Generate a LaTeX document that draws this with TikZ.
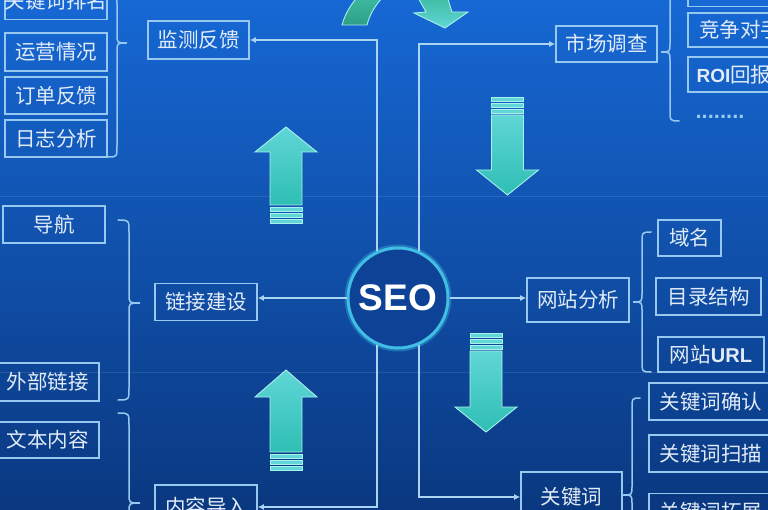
\documentclass[tikz,border=0pt]{standalone}
\usepackage{fontspec}
\newfontfamily\cjk{Noto Sans CJK SC}
\newfontfamily\lsans{Liberation Sans}
\usetikzlibrary{arrows.meta}
\definecolor{bgT}{RGB}{22,104,212}
\definecolor{bgM}{RGB}{16,80,176}
\definecolor{bgB}{RGB}{10,56,128}
\definecolor{boxc}{RGB}{150,200,240}
\definecolor{txtc}{RGB}{225,236,248}
\definecolor{linec}{RGB}{170,212,242}
\definecolor{ringc}{RGB}{64,190,228}
\definecolor{seofill}{RGB}{14,66,150}
\definecolor{arrT}{RGB}{96,214,214}
\definecolor{arrB}{RGB}{46,190,180}
\definecolor{arrE}{RGB}{170,240,236}
\definecolor{curvA}{RGB}{44,160,134}
\definecolor{curvB}{RGB}{62,186,160}
\tikzset{
  box/.style={draw=boxc, line width=1.6pt, text=txtc,
    font=\cjk\fontsize{20.5}{22}\selectfont, inner sep=0pt,
    minimum height=37pt},
  conn/.style={draw=linec, line width=2pt, -{Latex[length=6pt,width=6pt]}},
  brc/.style={draw=boxc, line width=1.5pt, line cap=round},
  bigarr/.style={top color=arrT, bottom color=arrB, draw=arrE, line width=0.9pt},
  stripe/.style={fill=arrT, draw=arrE, line width=0.4pt},
}
% up arrow: cx, tip y, head base y, shaft bottom y
\newcommand\myUp[4]{%
  \shade[bigarr] (#1,#2) -- ({#1+31},#3) -- ({#1+16},#3) -- ({#1+16},#4)
    -- ({#1-16},#4) -- ({#1-16},#3) -- ({#1-31},#3) -- cycle;
  \path[stripe] ({#1-16},{#4+2}) rectangle ({#1+16},{#4+6});
  \path[stripe] ({#1-16},{#4+8}) rectangle ({#1+16},{#4+12});
  \path[stripe] ({#1-16},{#4+14}) rectangle ({#1+16},{#4+18});
}
% down arrow: cx, shaft top y, head base y, tip y
\newcommand\myDown[4]{%
  \shade[bigarr] ({#1-16},#2) -- ({#1+16},#2) -- ({#1+16},#3) -- ({#1+31},#3)
    -- (#1,#4) -- ({#1-31},#3) -- ({#1-16},#3) -- cycle;
  \path[stripe] ({#1-16},{#2-6}) rectangle ({#1+16},{#2-2});
  \path[stripe] ({#1-16},{#2-12}) rectangle ({#1+16},{#2-8});
  \path[stripe] ({#1-16},{#2-18}) rectangle ({#1+16},{#2-14});
}
% brace: end x, vertical x, tip x, top y, tip y, bottom y
\newcommand\myBrace[6]{%
  \draw[brc] (#1,#4) .. controls (#2,#4) .. (#2,{#4+12}) -- (#2,{#5-9})
    .. controls (#2,#5) .. (#3,#5) .. controls (#2,#5) .. (#2,{#5+9})
    -- (#2,{#6-12}) .. controls (#2,#6) .. (#1,#6);
}
\begin{document}
\begin{tikzpicture}[x=1pt,y=-1pt]
\useasboundingbox (0,0) rectangle (768,510);
\clip (0,0) rectangle (768,510);
\shade[top color=bgT, middle color=bgM, bottom color=bgB] (0,0) rectangle (768,510);
% faint grid lines
\draw[white, opacity=0.10, line width=1pt] (0,197) -- (768,197);
\draw[white, opacity=0.10, line width=1pt] (0,372) -- (768,372);

% curved arrows at the top
\shade[top color=curvB, bottom color=curvA, draw=arrE, line width=0.9pt]
  (342,25) .. controls (345,14) and (350,6) .. (358,-4) -- (384,-4)
  .. controls (377,3) and (370,13) .. (367,25) -- cycle;
\shade[top color=curvB, bottom color=arrT, draw=arrE, line width=0.9pt]
  (417,-4) .. controls (421,3) .. (426,12) -- (414,13) -- (445,28) -- (468,12)
  -- (452,12) .. controls (450,4) .. (447,-4) -- cycle;

% big arrows
\myUp{286}{127}{152}{205}
\myUp{286}{370}{397}{452}
\myDown{507.5}{115}{170}{195}
\myDown{486}{351}{407}{432}

% SEO circle
\draw[ringc, opacity=0.35, line width=7pt] (398,298) circle (50pt);
\node[circle, draw=ringc, line width=3pt, fill=seofill, minimum size=100pt,
  inner sep=0pt, text=white, font=\lsans\bfseries\fontsize{37}{40}\selectfont]
  (seo) at (398,298) {SEO};

% left column
\node[box, minimum width=102pt] (kwpm) at (56,1) {关键词排名};
\node[box, minimum width=102pt, minimum height=38pt] (yyqk) at (56,52) {运营情况};
\node[box, minimum width=102pt] (ddfk) at (56,95.5) {订单反馈};
\node[box, minimum width=102pt] (rzfx) at (56,138.5) {日志分析};
\node[box, minimum width=102pt] (dh) at (54,224.5) {导航};
\node[box, minimum width=103pt, minimum height=38pt] (wblj) at (47.5,382) {外部链接};
\node[box, minimum width=103pt, minimum height=36pt] (wbnr) at (47.5,440) {文本内容};

% middle column
\node[box, minimum width=101pt, minimum height=38pt] (jcfk) at (198.5,40) {监测反馈};
\node[box, minimum width=102pt] (ljjs) at (206,302) {链接建设};
\node[box, minimum width=102pt, minimum height=44pt] (nrdr) at (206,507) {内容导入};
\node[box, minimum width=101pt, minimum height=36pt] (scjc) at (606.5,44) {市场调查};
\node[box, minimum width=102pt, minimum height=44pt] (wzfx) at (578,300) {网站分析};
\node[box, minimum width=101pt, minimum height=50pt] (gjc) at (571.5,497) {关键词};

% right column
\node[box, minimum width=100pt] (rtop) at (738,-12) {};
\node[box, minimum width=104pt, minimum height=34pt] (jzds) at (740,30) {竞争对手};
\node[box, minimum width=92pt, minimum height=35pt] (roi) at (734,74.5)
  {{\lsans\bfseries\fontsize{19}{22}\selectfont ROI}回报};
\node[text=boxc, font=\lsans\bfseries\fontsize{22}{22}\selectfont, inner sep=0pt]
  (dots) at (720,117) {........};
\node[box, minimum width=63pt, minimum height=36pt] (ym) at (689.5,238) {域名};
\node[box, minimum width=105pt] (mljg) at (708.5,296.5) {目录结构};
\node[box, minimum width=106pt, minimum height=35pt] (wzurl) at (711,354.5)
  {网站{\lsans\bfseries\fontsize{20}{22}\selectfont URL}};
\node[box, minimum width=124pt] (gjcqr) at (711,401.5) {关键词确认};
\node[box, minimum width=124pt] (gjcsm) at (711,453.5) {关键词扫描};
\node[box, minimum width=124pt] (gjctz) at (711,512) {关键词拓展};

% braces
\myBrace{108}{117}{127}{-8}{43}{157}
\myBrace{118}{129}{140}{220}{303}{400}
\myBrace{118}{129}{140}{413}{503}{600}
\myBrace{679}{670}{661}{-30}{52}{121}
\myBrace{651}{642}{633}{232}{302}{372}
\myBrace{640}{632}{623}{398}{495}{600}

% connectors
\draw[conn] (seo.114) |- (jcfk.east);
\draw[conn] (seo.66) |- (scjc.west);
\draw[conn] (seo.west) -- (seo.west -| ljjs.east);
\draw[conn] (seo.east) -- (seo.east -| wzfx.west);
\draw[conn] (seo.246) |- (nrdr.east);
\draw[conn] (seo.294) |- (gjc.west);
\end{tikzpicture}
\end{document}
